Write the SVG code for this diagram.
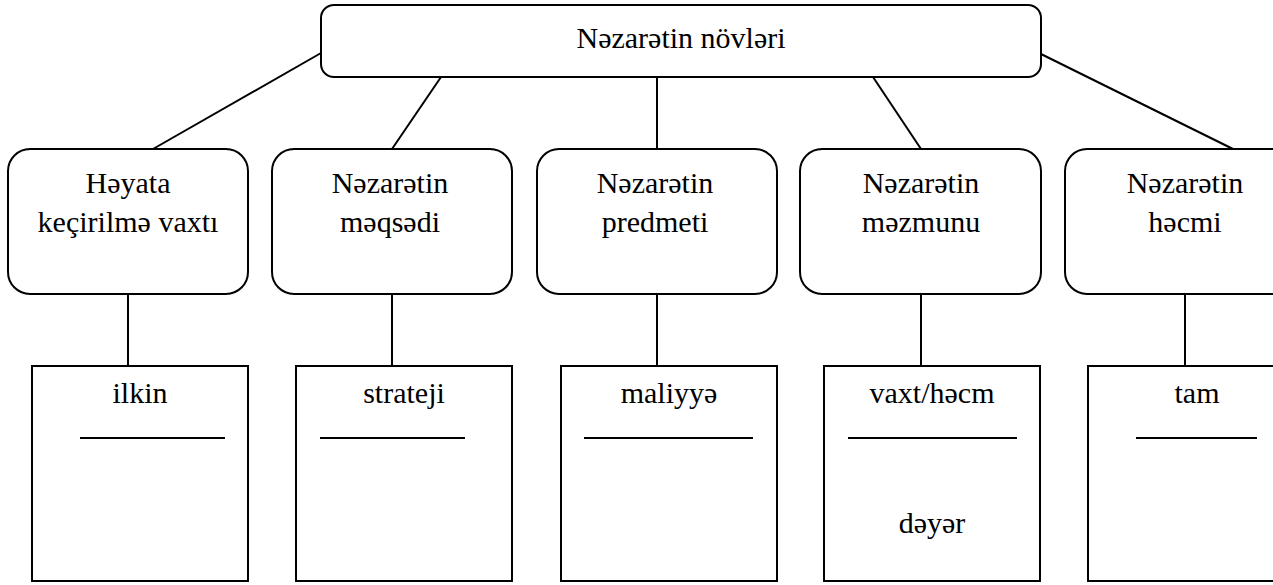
<svg xmlns="http://www.w3.org/2000/svg" width="1273" height="585" viewBox="0 0 1273 585">
<style>
.b{fill:#fff;stroke:#000;stroke-width:2}
.c{stroke:#000;stroke-width:2;fill:none}
</style>
<rect width="1273" height="585" fill="#fff"/>
<g id="connectors">
<line class="c" x1="321" y1="53" x2="153" y2="149"/>
<line class="c" x1="441" y1="77" x2="392" y2="149"/>
<line class="c" x1="657" y1="77" x2="657" y2="149"/>
<line class="c" x1="873" y1="77" x2="921" y2="149"/>
<line class="c" x1="1041" y1="54" x2="1233" y2="149"/>
<line class="c" x1="128" y1="294" x2="128" y2="366"/>
<line class="c" x1="392" y1="294" x2="392" y2="366"/>
<line class="c" x1="657" y1="294" x2="657" y2="366"/>
<line class="c" x1="921" y1="294" x2="921" y2="366"/>
<line class="c" x1="1185" y1="294" x2="1185" y2="366"/>
</g>
<g font-family="Liberation Serif, Times New Roman, serif" font-size="30" text-anchor="middle" fill="#000">
<g id="root">
<rect class="b" x="321" y="5" width="720" height="72" rx="13"/>
<text x="681" y="48">Nəzarətin növləri</text>
</g>
<g id="n1">
<rect class="b" x="8" y="149" width="240" height="145" rx="22"/>
<text x="128" y="193">Həyata</text>
<text x="128" y="232">keçirilmə vaxtı</text>
</g>
<g id="n2">
<rect class="b" x="272" y="149" width="240" height="145" rx="22"/>
<text x="390" y="193">Nəzarətin</text>
<text x="390" y="232">məqsədi</text>
</g>
<g id="n3">
<rect class="b" x="537" y="149" width="240" height="145" rx="22"/>
<text x="655" y="193">Nəzarətin</text>
<text x="655" y="232">predmeti</text>
</g>
<g id="n4">
<rect class="b" x="800" y="149" width="241" height="145" rx="22"/>
<text x="921" y="193">Nəzarətin</text>
<text x="921" y="232">məzmunu</text>
</g>
<g id="n5">
<rect class="b" x="1065" y="149" width="240" height="145" rx="22"/>
<text x="1185" y="193">Nəzarətin</text>
<text x="1185" y="232">həcmi</text>
</g>
<g id="l1">
<rect class="b" x="32" y="366" width="216" height="215"/>
<text x="140" y="403">ilkin</text>
<line class="c" x1="80" y1="438" x2="225" y2="438"/>
</g>
<g id="l2">
<rect class="b" x="296" y="366" width="216" height="215"/>
<text x="404" y="403">strateji</text>
<line class="c" x1="320" y1="438" x2="465" y2="438"/>
</g>
<g id="l3">
<rect class="b" x="561" y="366" width="216" height="215"/>
<text x="669" y="403">maliyyə</text>
<line class="c" x1="584" y1="438" x2="753" y2="438"/>
</g>
<g id="l4">
<rect class="b" x="824" y="366" width="216" height="215"/>
<text x="932" y="403">vaxt/həcm</text>
<line class="c" x1="848" y1="438" x2="1017" y2="438"/>
<text x="932" y="533">dəyər</text>
</g>
<g id="l5">
<rect class="b" x="1088" y="366" width="217" height="215"/>
<text x="1197" y="403">tam</text>
<line class="c" x1="1136" y1="438" x2="1257" y2="438"/>
</g>
</g>
</svg>
